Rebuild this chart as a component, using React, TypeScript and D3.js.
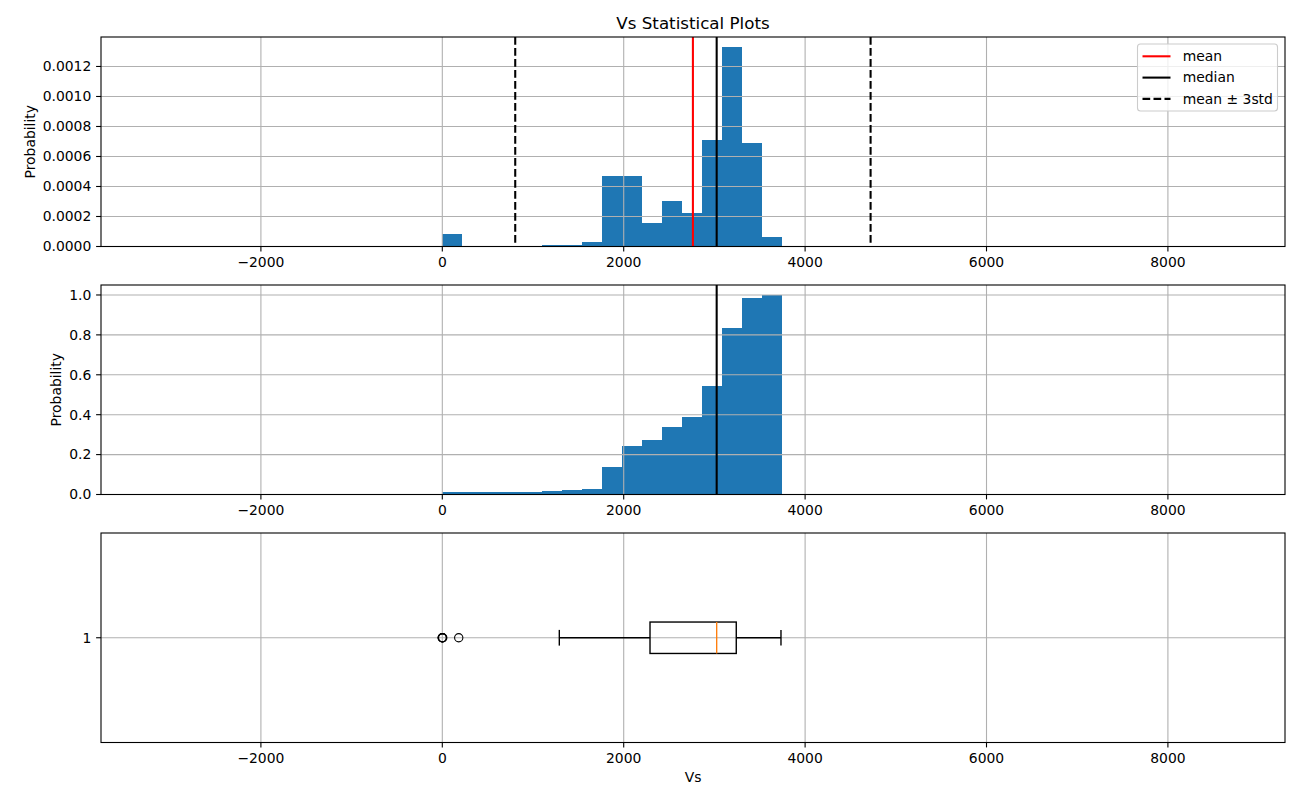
import React from "react";
import * as d3 from "d3";

const binEdges = [0, 220.6, 441.2, 661.8, 882.4, 1102.9, 1323.5, 1544.1, 1764.7, 1985.3, 2205.9, 2426.5, 2647.1, 2867.6, 3088.2, 3308.8, 3529.4, 3750.0];
const densities = [0.00008, 0, 0, 0, 0, 0.0000133, 0.0000133, 0.0000267, 0.000473, 0.000473, 0.000156, 0.0003, 0.00022, 0.000709, 0.001329, 0.000693, 0.0000622];
const cumulative = [0.015, 0.015, 0.015, 0.015, 0.015, 0.02, 0.025, 0.03, 0.136, 0.243, 0.271, 0.338, 0.389, 0.543, 0.834, 0.987, 1.0];

const meanValue = 2763;
const medianValue = 3025;
const stdValue = 653;

const boxStats = { whiskerLow: 1290, q1: 2290, median: 3025, q3: 3241, whiskerHigh: 3734 };
const outliers = [0, 0, 0, 5, 181];

const xTicks = [-2000, 0, 2000, 4000, 6000, 8000];
const yTicksTop = [0, 0.0002, 0.0004, 0.0006, 0.0008, 0.001, 0.0012];
const yTicksMid = [0, 0.2, 0.4, 0.6, 0.8, 1.0];
const yTicksBox = [1];

const DASH = "7.7,3.3";
const legendItems = [
  { label: "mean", color: "red", dash: "" },
  { label: "median", color: "black", dash: "" },
  { label: "mean ± 3std", color: "black", dash: DASH },
];

const L = 101, R = 1285;
const FONT = "DejaVu Sans, sans-serif";
const GRID = "#b0b0b0";
const BAR = "#1f77b4";
const fmtX = (v: number) => (v < 0 ? "\u2212" + Math.abs(v) : String(v));

const x = d3.scaleLinear().domain([-3763, 9291]).range([L, R]);

function Panel({ top, bottom, y, yTicks, yFmt, ylabel, ylabelX, children }: any) {
  return (
    <g>
      {children.bars}
      {xTicks.map((t) => (
        <line key={"gx" + t} x1={x(t)} x2={x(t)} y1={top} y2={bottom} stroke={GRID} strokeWidth={1.1} />
      ))}
      {yTicks.map((t: number) => (
        <line key={"gy" + t} x1={L} x2={R} y1={y(t)} y2={y(t)} stroke={GRID} strokeWidth={1.1} />
      ))}
      {children.lines}
      <rect x={L} y={top} width={R - L} height={bottom - top} fill="none" stroke="black" strokeWidth={1.1} />
      {xTicks.map((t) => (
        <g key={"tx" + t}>
          <line x1={x(t)} x2={x(t)} y1={bottom} y2={bottom + 4.9} stroke="black" strokeWidth={1.1} />
          <text x={x(t)} y={bottom + 9.7} dy="0.76em" textAnchor="middle" fontSize={13.9} fontFamily={FONT}>
            {fmtX(t)}
          </text>
        </g>
      ))}
      {yTicks.map((t: number) => (
        <g key={"ty" + t}>
          <line x1={L - 4.9} x2={L} y1={y(t)} y2={y(t)} stroke="black" strokeWidth={1.1} />
          <text x={L - 9.7} y={y(t)} dy="0.35em" textAnchor="end" fontSize={13.9} fontFamily={FONT}>
            {yFmt(t)}
          </text>
        </g>
      ))}
      {ylabel && (
        <text
          transform={`translate(${ylabelX},${(top + bottom) / 2}) rotate(-90)`}
          dy="0.35em"
          textAnchor="middle"
          fontSize={13.9}
          fontFamily={FONT}
        >
          {ylabel}
        </text>
      )}
      {children.extra}
    </g>
  );
}

export default function App() {
  const t1 = 37, b1 = 246.5;
  const t2 = 285, b2 = 494.5;
  const t3 = 533, b3 = 742.5;
  const y1 = d3.scaleLinear().domain([0, 0.0013965]).range([b1, t1]);
  const y2 = d3.scaleLinear().domain([0, 1.05]).range([b2, t2]);
  const y3 = d3.scaleLinear().domain([0.5, 1.5]).range([b3, t3]);

  const bars = (vals: number[], y: any) => (
    <g shapeRendering="crispEdges">
      {vals.map((v, i) => (
        <rect
          key={i}
          x={x(binEdges[i])}
          width={x(binEdges[i + 1]) - x(binEdges[i])}
          y={y(v)}
          height={y(0) - y(v)}
          fill={BAR}
        />
      ))}
    </g>
  );

  const vline = (v: number, top: number, bottom: number, color: string, dash = "", key = "") => (
    <line key={key} x1={x(v)} x2={x(v)} y1={top} y2={bottom} stroke={color} strokeWidth={2.08} strokeDasharray={dash} />
  );

  const bh = y3(1 - 0.075) - y3(1 + 0.075);
  const capHalf = (y3(1 - 0.0375) - y3(1 + 0.0375)) / 2;
  const yc = y3(1);

  return (
    <svg width={1300} height={800} style={{ position: "absolute", left: 0, top: 0, background: "white" }}>
      <rect width={1300} height={800} fill="white" />
      <text x={(L + R) / 2} y={23} dy="0.35em" textAnchor="middle" fontSize={16.7} fontFamily={FONT}>
        Vs Statistical Plots
      </text>

      <Panel top={t1} bottom={b1} y={y1} yTicks={yTicksTop} yFmt={(v: number) => v.toFixed(4)} ylabel="Probability" ylabelX={30.5}>
        {{
          bars: bars(densities, y1),
          lines: [
            vline(meanValue, t1, b1, "red", "", "mean"),
            vline(medianValue, t1, b1, "black", "", "median"),
            vline(meanValue - 3 * stdValue, t1, b1, "black", DASH, "lo"),
            vline(meanValue + 3 * stdValue, t1, b1, "black", DASH, "hi"),
          ],
          extra: (
            <g>
              <rect x={1137.5} y={44} width={140} height={67} rx={3} fill="white" fillOpacity={0.8} stroke="#cccccc" strokeWidth={1.1} />
              {legendItems.map((it, i) => {
                const yy = 56.3 + i * 21.3;
                return (
                  <g key={it.label}>
                    <line x1={1142.5} x2={1170.5} y1={yy} y2={yy} stroke={it.color} strokeWidth={2.08} strokeDasharray={it.dash} />
                    <text x={1182.7} y={yy} dy="0.35em" fontSize={13.9} fontFamily={FONT}>
                      {it.label}
                    </text>
                  </g>
                );
              })}
            </g>
          ),
        }}
      </Panel>

      <Panel top={t2} bottom={b2} y={y2} yTicks={yTicksMid} yFmt={(v: number) => v.toFixed(1)} ylabel="Probability" ylabelX={56}>
        {{
          bars: bars(cumulative, y2),
          lines: [vline(medianValue, t2, b2, "black", "", "median2")],
          extra: null,
        }}
      </Panel>

      <Panel top={t3} bottom={b3} y={y3} yTicks={yTicksBox} yFmt={(v: number) => String(v)} ylabel="" ylabelX={0}>
        {{
          bars: null,
          lines: (
            <g stroke="black" strokeWidth={1.39} fill="none">
              <line x1={x(boxStats.whiskerLow)} x2={x(boxStats.q1)} y1={yc} y2={yc} />
              <line x1={x(boxStats.q3)} x2={x(boxStats.whiskerHigh)} y1={yc} y2={yc} />
              <line x1={x(boxStats.whiskerLow)} x2={x(boxStats.whiskerLow)} y1={yc - capHalf} y2={yc + capHalf} />
              <line x1={x(boxStats.whiskerHigh)} x2={x(boxStats.whiskerHigh)} y1={yc - capHalf} y2={yc + capHalf} />
              <rect x={x(boxStats.q1)} y={yc - bh / 2} width={x(boxStats.q3) - x(boxStats.q1)} height={bh} />
              <line x1={x(boxStats.median)} x2={x(boxStats.median)} y1={yc - bh / 2} y2={yc + bh / 2} stroke="#ff7f0e" />
              {outliers.map((o, i) => (
                <circle key={i} cx={x(o)} cy={yc} r={4.15} strokeWidth={1.1} />
              ))}
            </g>
          ),
          extra: (
            <text x={(L + R) / 2} y={777} dy="0.35em" textAnchor="middle" fontSize={13.9} fontFamily={FONT}>
              Vs
            </text>
          ),
        }}
      </Panel>
    </svg>
  );
}
